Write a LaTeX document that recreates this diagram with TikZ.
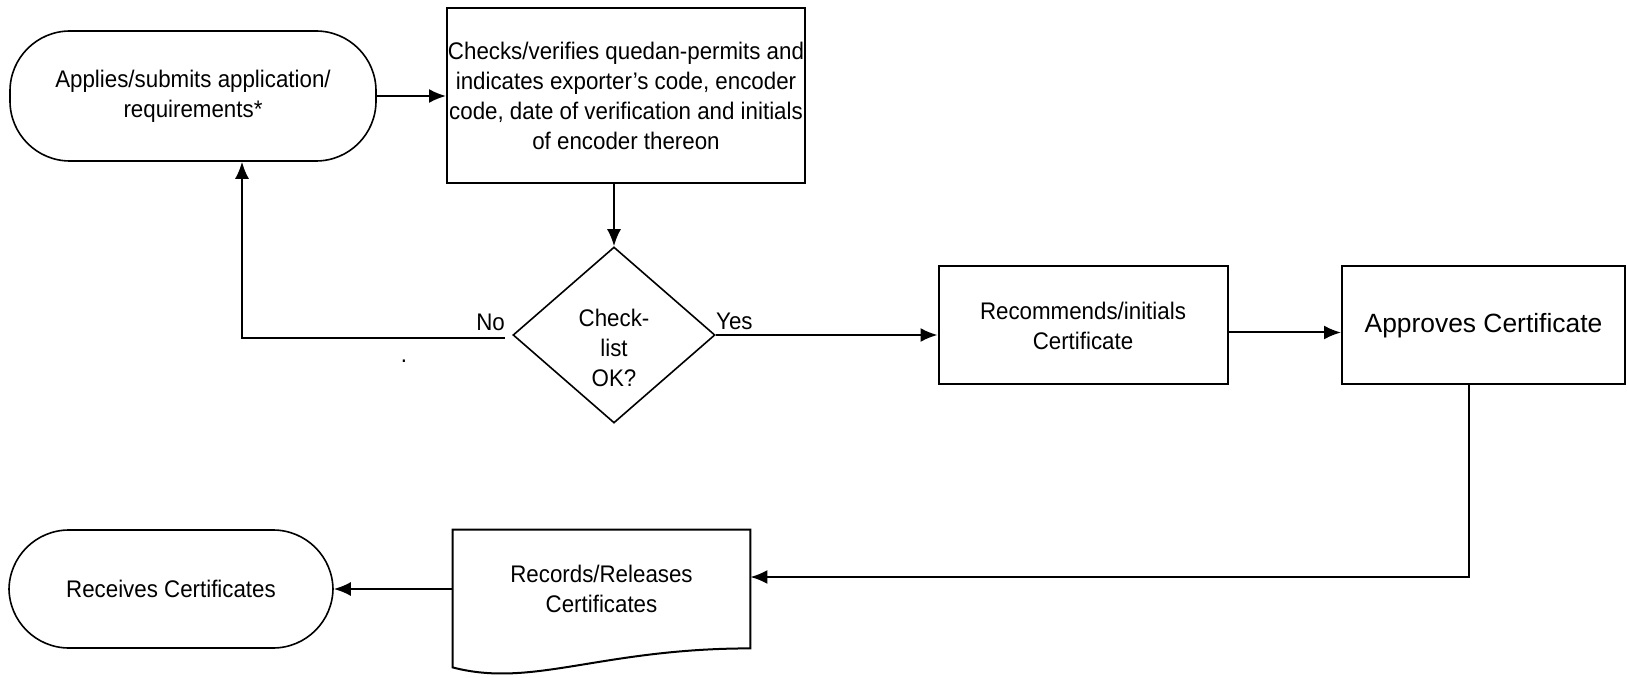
\documentclass[tikz,border=0pt]{standalone}
\usepackage{fontspec}
\setmainfont{Liberation Sans}
\newfontfamily\flowfont{Liberation Sans}[FakeStretch=0.93]
\usetikzlibrary{shapes.geometric, arrows.meta}
\newcommand{\pxunit}{0.5pt}

\begin{document}
\begin{tikzpicture}[x=\pxunit, y=-\pxunit]
\useasboundingbox (0,0) rectangle (1627,678);
\tikzstyle{terminal}=[draw,
                      line width=0.8pt,
                      rounded corners=30pt,
                      align=center,
                      inner sep=0pt,
                      font=\flowfont\fontsize{12}{15}\selectfont
                      ]
\tikzstyle{process}=[draw,
                     line width=1pt,
                     align=center,
                     inner sep=0pt,
                     font=\flowfont\fontsize{12}{15}\selectfont
                     ]
\tikzstyle{decision}=[draw, diamond, line width=0.8pt, inner sep=0pt,
                      minimum width=202*\pxunit, minimum height=176*\pxunit]
\tikzstyle{answer}=[inner sep=0pt, font=\flowfont\fontsize{12}{15}\selectfont]
\tikzstyle{flow}=[line width=1pt, -{Latex[length=8.5pt,width=7pt]}]

\node[terminal, minimum width=366*\pxunit, minimum height=130*\pxunit] (start) at (193,96) {Applies/submits application/\\requirements*};
\node[process, minimum width=358*\pxunit, minimum height=175*\pxunit] (check) at (626,95.5) {Checks/verifies quedan-permits and\\indicates exporter’s code, encoder\\code, date of verification and initials\\of encoder thereon};
\node[decision] (dec) at (614,335) {};
\node[answer, align=center] (dectext) at (614,348) {Check-\\list\\OK?};
\node[process, minimum width=289*\pxunit, minimum height=118*\pxunit] (rec) at (1083,325.5) {Recommends/initials\\Certificate};
\node[process, minimum width=283*\pxunit, minimum height=118*\pxunit, font=\fontsize{13.2}{16}\selectfont] (app) at (1483.5,325.5) {Approves Certificate};
\node[answer, align=center, minimum width=297*\pxunit, minimum height=118*\pxunit] (doc) at (601.5,589) {Records/Releases\\Certificates};
\node[terminal, minimum width=324*\pxunit, minimum height=118*\pxunit] (rcv) at (171,589) {Receives Certificates};

\draw[line width=1pt] (doc.north west) -- (doc.north east) -- (doc.south east) .. controls +(-150,0) and +(80,21) .. ([yshift=-19*\pxunit]doc.south west) -- cycle;

\draw[flow] (start.east) -- (start.east -| check.west);
\draw[flow] (check.south -| dec.north) -- (dec.north);
\draw[flow] (dec.east) -- (dec.east -| rec.west);
\draw[flow] ([yshift=-7*\pxunit]rec.east) -- ([yshift=-7*\pxunit]app.west);
\draw[flow] ([xshift=-15*\pxunit]app.south) |- ([yshift=12*\pxunit]doc.east);
\draw[flow] (doc.west) -- (rcv.east);
\draw[flow] ([xshift=-7*\pxunit, yshift=-3*\pxunit]dec.west) -| ([xshift=49*\pxunit]start.south);

\node[answer, anchor=south east] (no) at ([xshift=-7*\pxunit, yshift=4*\pxunit]dec.west) {No};
\node[answer, anchor=south west] (yes) at ([yshift=5*\pxunit]dec.east) {Yes};
\node[answer, anchor=base] (dot) at (404,363) {.};

\end{tikzpicture}
\end{document}
